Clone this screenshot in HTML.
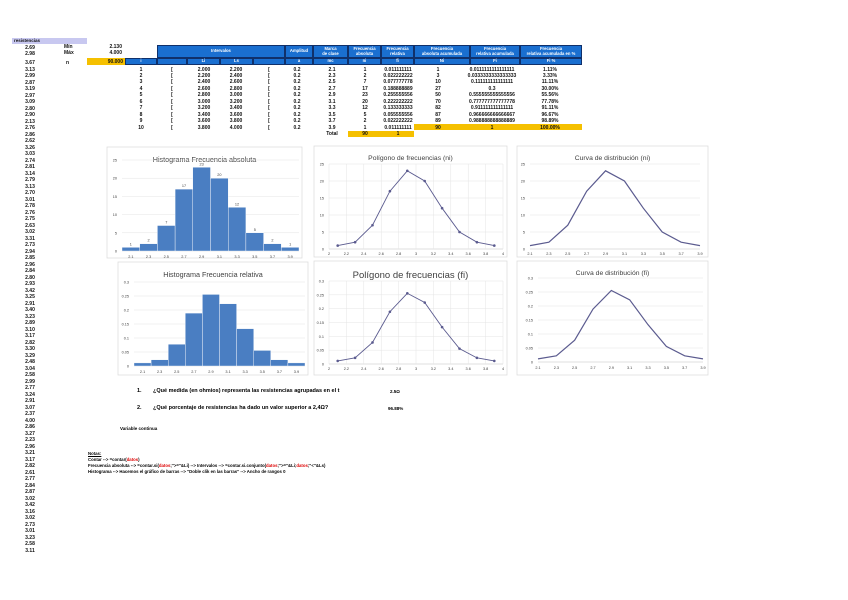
<!DOCTYPE html>
<html><head><meta charset="utf-8">
<style>
body{margin:0;width:848px;height:600px;background:#fff;position:relative;overflow:hidden;font-family:"Liberation Sans",sans-serif;}
.t{position:absolute;font-size:5px;font-weight:bold;color:#111;white-space:nowrap;line-height:6px;}
.c{transform:translateX(-50%);}
.r{transform:translateX(-100%);}
.hb{position:absolute;background:#1a6fd0;border:1px solid #10306a;box-sizing:border-box;color:#fff;font-size:4.2px;font-weight:bold;text-align:center;line-height:4.6px;display:flex;align-items:center;justify-content:center;}
.yl{position:absolute;background:#f5c000;}
svg{position:absolute;left:0;top:0;}
</style></head>
<body>
<div class="yl" style="left:12px;top:38px;width:75px;height:6px;background:#c8c8f0"></div>
<div class="t" style="left:14px;top:38px;font-size:4.5px">resistencias</div>
<div id="col"></div>
<div class="t" style="left:64px;top:44px">Mín</div>
<div class="t r" style="left:122px;top:44px">2.130</div>
<div class="t" style="left:64px;top:50px">Máx</div>
<div class="t r" style="left:122px;top:50px">4.000</div>
<div class="t" style="left:66px;top:60px">n</div>
<div class="yl" style="left:87px;top:58px;width:38px;height:7px"></div>
<div class="t r" style="left:123px;top:59px">90.000</div>

<div class="hb" style="left:157px;top:45px;width:128px;height:13px">Intervalos</div>
<div class="hb" style="left:285px;top:45px;width:28px;height:13px">Amplitud</div>
<div class="hb" style="left:313px;top:45px;width:35px;height:13px">Marca<br>de clase</div>
<div class="hb" style="left:348px;top:45px;width:33px;height:13px">Frecuencia<br>absoluta</div>
<div class="hb" style="left:381px;top:45px;width:33px;height:13px">Frecuencia<br>relativa</div>
<div class="hb" style="left:414px;top:45px;width:56px;height:13px">Frecuencia<br>absoluta acumulada</div>
<div class="hb" style="left:470px;top:45px;width:50px;height:13px">Frecuencia<br>relativa acumulada</div>
<div class="hb" style="left:520px;top:45px;width:62px;height:13px">Frecuencia<br>relativa acumulada en %</div>
<div class="hb" style="left:125px;top:58px;width:32px;height:7px">i</div>
<div class="hb" style="left:157px;top:58px;width:30px;height:7px"></div>
<div class="hb" style="left:187px;top:58px;width:33px;height:7px">Li</div>
<div class="hb" style="left:220px;top:58px;width:33px;height:7px">Ls</div>
<div class="hb" style="left:253px;top:58px;width:32px;height:7px"></div>
<div class="hb" style="left:285px;top:58px;width:28px;height:7px">a</div>
<div class="hb" style="left:313px;top:58px;width:35px;height:7px">mc</div>
<div class="hb" style="left:348px;top:58px;width:33px;height:7px">ni</div>
<div class="hb" style="left:381px;top:58px;width:33px;height:7px">fi</div>
<div class="hb" style="left:414px;top:58px;width:56px;height:7px">Ni</div>
<div class="hb" style="left:470px;top:58px;width:50px;height:7px">Fi</div>
<div class="hb" style="left:520px;top:58px;width:62px;height:7px">Fi %</div>
<div class="yl" style="left:414px;top:124px;width:168px;height:6px"></div>
<div class="yl" style="left:348px;top:131px;width:33px;height:6px"></div>
<div class="yl" style="left:381px;top:131px;width:33px;height:6px"></div>
<div class="t c" style="left:332px;top:131px">Total</div>
<div class="t c" style="left:365px;top:131px">90</div>
<div class="t c" style="left:398px;top:131px">1</div>
<div id="rows"></div>

<div style="position:absolute;left:137px;top:388px;font-size:5.5px;font-weight:bold">1.</div>
<div style="position:absolute;left:153px;top:388px;font-size:5.5px;font-weight:bold">¿Qué medida (en ohmios) representa las resistencias agrupadas en el t</div>
<div style="position:absolute;left:390px;top:389px;font-size:4.5px;font-weight:bold">2.5Ω</div>
<div style="position:absolute;left:137px;top:405px;font-size:5.5px;font-weight:bold">2.</div>
<div style="position:absolute;left:153px;top:405px;font-size:5.5px;font-weight:bold">¿Qué porcentaje de resistencias ha dado un valor superior a 2,4Ω?</div>
<div style="position:absolute;left:388px;top:406px;font-size:4.5px;font-weight:bold">96.88%</div>
<div style="position:absolute;left:120px;top:426px;font-size:4.5px;font-weight:bold">Variable continua</div>
<div style="position:absolute;left:88px;top:451px;font-size:4.3px;font-weight:bold;line-height:6px">
<u>Notas:</u><br>
Contar --&gt; =contar(<span style="color:#d00">datos</span>)<br>
Frecuencia absoluta --&gt; =contar.si(<span style="color:#d00">datos</span>;"&gt;="&amp;Li) --&gt; Intervalos --&gt; =contar.si.conjunto(<span style="color:#d00">datos</span>;"&gt;="&amp;Li;<span style="color:#d00">datos</span>;"&lt;"&amp;Ls)<br>
Histograma --&gt; Hacemos el gráfico de barras --&gt; "Doble clik en las barras" --&gt; Ancho de rangos 0
</div>

<svg id="ch" width="848" height="600"></svg>

<script>
// ---- data ----
const resistencias = [2.69,2.98,3.67,3.13,2.99,2.87,3.19,2.97,3.09,2.80,2.90,2.13,2.76,2.86,2.62,3.26,3.03,2.74,2.81,3.14,2.79,3.13,2.70,3.01,2.78,2.76,2.75,2.63,3.02,3.31,2.73,2.94,2.85,2.96,2.84,2.80,2.93,3.42,3.25,2.91,3.40,3.23,2.89,3.10,3.17,2.82,3.30,3.29,2.48,3.04,2.58,2.99,2.77,3.24,2.91,3.07,2.37,4.00,2.86,3.27,2.23,2.96,3.21,3.17,2.82,2.61,2.77,2.84,2.87,3.02,3.42,3.16,3.02,2.73,3.01,3.23,2.58,3.11];
const classIdx = [1,2,3,4,5,6,7,8,9,10];
const liVals = ["2.000","2.200","2.400","2.600","2.800","3.000","3.200","3.400","3.600","3.800"];
const lsVals = ["2.200","2.400","2.600","2.800","3.000","3.200","3.400","3.600","3.800","4.000"];
const marks = [2.1,2.3,2.5,2.7,2.9,3.1,3.3,3.5,3.7,3.9];
const markLabels = ["2.1","2.3","2.5","2.7","2.9","3.1","3.3","3.5","3.7","3.9"];
const ni = [1,2,7,17,23,20,12,5,2,1];
const fi = [0.0111,0.0222,0.0778,0.1889,0.2556,0.2222,0.1333,0.0556,0.0222,0.0111];
const fiText = ["0.011111111","0.022222222","0.077777778","0.188888889","0.255555556","0.222222222","0.133333333","0.055555556","0.022222222","0.011111111"];
const Ni = [1,3,10,27,50,70,82,87,89,90];
const FiText = ["0.0111111111111111","0.0333333333333333","0.111111111111111","0.3","0.555555555555556","0.777777777777778","0.911111111111111","0.966666666666667","0.988888888888889","1"];
const FpText = ["1.11%","3.33%","11.11%","30.00%","55.56%","77.78%","91.11%","96.67%","98.89%","100.00%"];
const niTicks = [0,5,10,15,20,25];
const fiTicks = [0,0.05,0.1,0.15,0.2,0.25,0.3];
const numXTicks = [2,2.2,2.4,2.6,2.8,3,3.2,3.4,3.6,3.8,4];

// ---- left column ----
const col = document.getElementById('col');
resistencias.forEach((v,i)=>{
  const d=document.createElement('div');
  
  
  d.className='t c';
  let y = i===0?44.5:i===1?50.5:i===2?59.5:(66.5+(i-3)*6.5);
  d.style.left='30px'; d.style.top=y+'px';
  d.textContent=v.toFixed(2);
  col.appendChild(d);
});
// ---- table rows ----
const rows=document.getElementById('rows');
function cell(x,y,txt,name){
  const d=document.createElement('div');
  
  
  d.className='t c'; d.style.left=x+'px'; d.style.top=y+'px'; d.textContent=txt;
  rows.appendChild(d);
}
classIdx.forEach((k,i)=>{
  const y=66.5+i*6.45;
  cell(141,y,k,'class-index');
  cell(172,y,'[','bracket-open');
  cell(204,y,liVals[i],'lower-limit');
  cell(236,y,lsVals[i],'upper-limit');
  cell(269,y,'[','bracket-close');
  cell(297,y,'0.2','amplitude');
  cell(332,y,String(marks[i]),'class-mark');
  cell(365,y,ni[i],'abs-frequency');
  cell(398,y,fiText[i],'rel-frequency');
  cell(438,y,Ni[i],'cum-abs-frequency');
  cell(492,y,FiText[i],'cum-rel-frequency');
  cell(550,y,FpText[i],'cum-rel-percent');
});

// ---- charts ----
const NS='http://www.w3.org/2000/svg';
const svg=document.getElementById('ch');
function el(tag,attrs,parent){const e=document.createElementNS(NS,tag);for(const k in attrs)e.setAttribute(k,attrs[k]);(parent||svg).appendChild(e);return e;}
function txt(x,y,s,size,anchor,parent){const t=el('text',{x:x,y:y,'font-size':size,'text-anchor':anchor||'middle','font-family':'Liberation Sans, DejaVu Sans, sans-serif',fill:'#404040'},parent);t.textContent=s;return t;}

function chart(o){
  const g=el('g',{});
  
  
  el('rect',{x:o.box[0],y:o.box[1],width:o.box[2]-o.box[0],height:o.box[3]-o.box[1],fill:'#fff',stroke:'#d9d9d9','stroke-width':0.7},g);
  const tt=txt((o.box[0]+o.box[2])/2,o.titleY,o.title,o.titleSize,'middle',g);
  
  
  const ymax=o.yTicks[o.yTicks.length-1];
  const Y=v=>o.y0-(v/ymax)*(o.y0-o.y1);
  o.yTicks.forEach(t=>{
    el('line',{x1:o.x0,x2:o.x1,y1:Y(t),y2:Y(t),stroke:t===0?'#bfbfbf':'#e4e4e4','stroke-width':0.5},g);
    const l=txt(o.x0-5,Y(t)+1.5,String(t),3.8,'end',g);
    
    
  });
  let X;
  if(o.type==='bar'){
    const n=o.vals.length, w=(o.x1-o.x0)/n;
    X=i=>o.x0+w*(i+0.5);
    o.vals.forEach((v,i)=>{
      const r=el('rect',{x:o.x0+w*i,y:Y(v),width:w,height:o.y0-Y(v),fill:'#4a7ec2',stroke:'#fff','stroke-width':0.4},g);
      
      
      if(o.barLabels){const bl=txt(X(i),Y(v)-2,String(v),3.8,'middle',g);
        
        }
    });
    o.cats.forEach((c,i)=>{const l=txt(X(i),o.labY,c,3.8,'middle',g);
      
      });
  } else {
    if(o.numX){
      const xmin=o.xTicks[0],xmax=o.xTicks[o.xTicks.length-1];
      X=i=>o.x0+(o.xs[i]-xmin)/(xmax-xmin)*(o.x1-o.x0);
      const XV=v=>o.x0+(v-xmin)/(xmax-xmin)*(o.x1-o.x0);
      o.xTicks.forEach(t=>{
        el('line',{x1:XV(t),x2:XV(t),y1:o.y0,y2:o.y1,stroke:'#e4e4e4','stroke-width':0.5},g);
        const l=txt(XV(t),o.labY,String(t),3.8,'middle',g);
        
        
      });
    } else {
      const n=o.vals.length;
      X=i=>o.x0+i*(o.x1-o.x0)/(n-1);
      o.cats.forEach((c,i)=>{const l=txt(X(i),o.labY,c,3.8,'middle',g);
        
        });
    }
    const pts=o.vals.map((v,i)=>X(i)+','+Y(v)).join(' ');
    const pl=el('polyline',{points:pts,fill:'none',stroke:'#5b5b8f','stroke-width':o.markers?0.9:1.2},g);
    
    
    if(o.markers) o.vals.forEach((v,i)=>{
      const c=el('circle',{cx:X(i),cy:Y(v),r:1.3,fill:'#5b5b8f'},g);
      
      
    });
  }
}

chart({name:'histogram-absolute',type:'bar',box:[107,147,302,258],title:'Histograma Frecuencia absoluta',titleY:162,titleSize:7.2,
  x0:122,x1:299,y0:251,y1:160,yTicks:niTicks,vals:ni,cats:markLabels,labY:258,barLabels:true});
chart({name:'histogram-relative',type:'bar',box:[118,262,308,375],title:'Histograma Frecuencia relativa',titleY:277,titleSize:7.2,
  x0:134,x1:305,y0:366,y1:282,yTicks:fiTicks,vals:fi,cats:markLabels,labY:373});
chart({name:'polygon-ni',type:'line',box:[314,146,507,257],title:'Polígono de frecuencias (ni)',titleY:160,titleSize:6.8,
  x0:329,x1:503,y0:249,y1:164,yTicks:niTicks,vals:ni,xs:marks,numX:true,xTicks:numXTicks,labY:255,markers:true});
chart({name:'curve-ni',type:'line',box:[517,146,708,257],title:'Curva de distribución (ni)',titleY:160,titleSize:6.8,
  x0:530,x1:700,y0:249,y1:164,yTicks:niTicks,vals:ni,cats:markLabels,labY:255});
chart({name:'polygon-fi',type:'line',box:[314,261,507,375],title:'Polígono de frecuencias (fi)',titleY:278,titleSize:9.5,
  x0:329,x1:503,y0:364,y1:281,yTicks:fiTicks,vals:fi,xs:marks,numX:true,xTicks:numXTicks,labY:370,markers:true});
chart({name:'curve-fi',type:'line',box:[517,261,708,375],title:'Curva de distribución (fi)',titleY:275,titleSize:6.8,
  x0:538,x1:703,y0:362,y1:278,yTicks:fiTicks,vals:fi,cats:markLabels,labY:369});
</script>
</body></html>
